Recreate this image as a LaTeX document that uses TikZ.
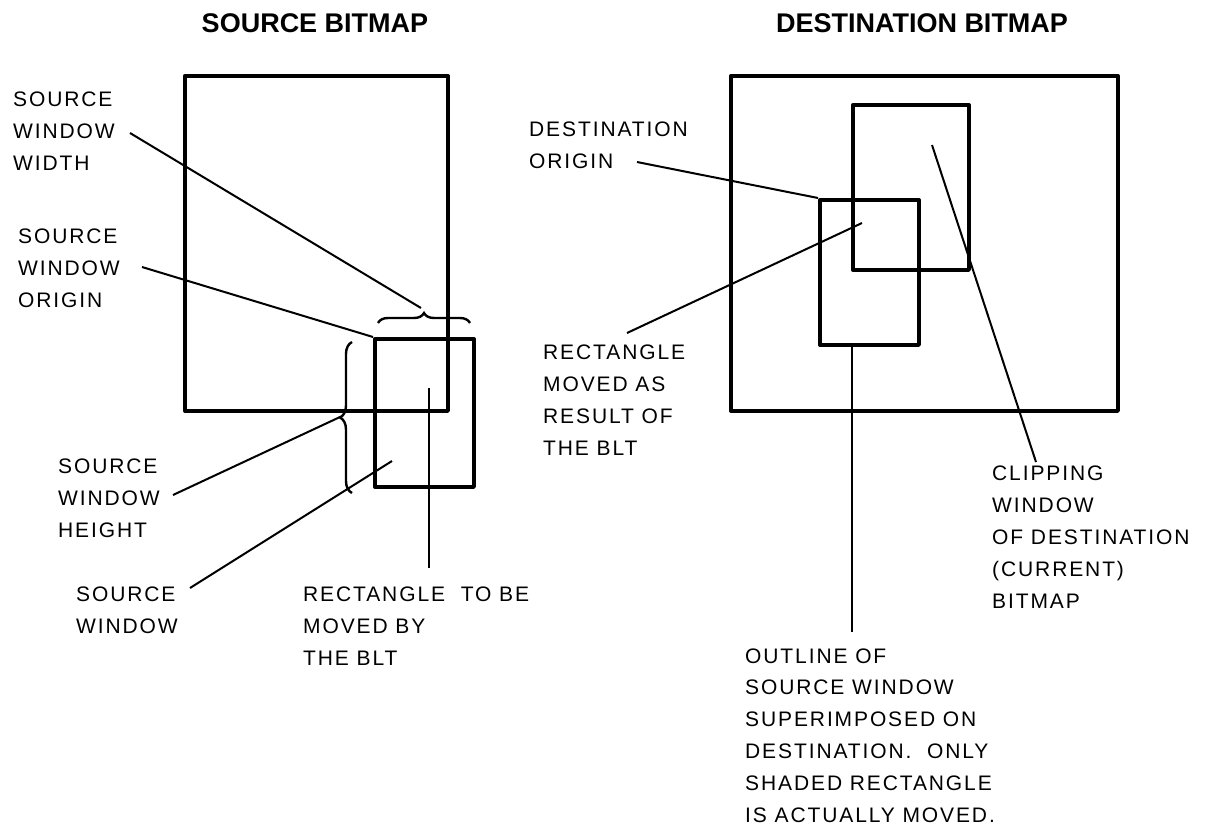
\documentclass[tikz,border=0pt]{standalone}
\usepackage{fontspec}
\setmainfont{Liberation Sans}
\newfontfamily\lblfamily[LetterSpace=9]{Liberation Sans}
\usetikzlibrary{decorations.pathreplacing}
\tikzset{
  bitbox/.style={draw, line width=3.8pt, line join=round, inner sep=0pt, anchor=north west},
  leader/.style={draw, line width=2pt},
  bracemark/.style={draw, line width=2.4pt, decorate, decoration={brace, amplitude=#1}},
  lbl/.style={font=\lblfamily\fontsize{21}{31.8}\selectfont, align=left, anchor=base west, inner sep=0pt},
  ttl/.style={font=\bfseries\fontsize{27}{30}\selectfont, anchor=base, inner sep=0pt}
}
\begin{document}
\begin{tikzpicture}[x=1pt, y=-1pt]
\useasboundingbox (0,0) rectangle (1215,828);
% titles
\node[ttl] (t1) at (315,32) {SOURCE BITMAP};
\node[ttl] (t2) at (922,32) {DESTINATION BITMAP};
% source side boxes
\node[bitbox, minimum width=263pt, minimum height=335pt] (srcbmp) at (183,74) {};
\node[bitbox, minimum width=99pt, minimum height=148pt] (srcwin) at (373,337) {};
% braces
\draw[bracemark=10pt] (378,323) -- (470,323);
\draw[bracemark=12pt] (352,493) -- (352,342);
% source labels (anchored at the baseline of their last line)
\node[lbl] (lw) at (13,170) {SOURCE\\WINDOW\\WIDTH};
\node[lbl] (lo) at (18,307) {SOURCE\\WINDOW\\ORIGIN};
\node[lbl] (lh) at (58,537) {SOURCE\\WINDOW\\HEIGHT};
\node[lbl] (ls) at (76,633) {SOURCE\\WINDOW};
\node[lbl] (lr) at (303,665) {RECTANGLE\hspace{8pt} TO BE\\MOVED BY\\THE BLT};
% source leader endpoints
\coordinate (lwA) at (130,133);
\coordinate (lwB) at (421,308);
\coordinate (loA) at (142,267);
\coordinate (loB) at (srcwin.north west);
\coordinate (lhA) at (173,495);
\coordinate (lhB) at (340,417);
\coordinate (lsA) at (190,588);
\coordinate (lsB) at (392,461);
\coordinate (lrA) at (429,388);
\coordinate (lrB) at (429,568);
\draw[leader] (lwA) -- (lwB);
\draw[leader] (loA) -- (loB);
\draw[leader] (lhA) -- (lhB);
\draw[leader] (lsA) -- (lsB);
\draw[leader] (lrA) -- (lrB);
% destination side boxes
\node[bitbox, minimum width=387pt, minimum height=335pt] (dstbmp) at (729,74) {};
\node[bitbox, minimum width=116pt, minimum height=165pt] (clip) at (851,103) {};
\node[bitbox, minimum width=99pt, minimum height=145pt] (dstwin) at (818,198) {};
% destination labels
\node[lbl] (ldo) at (529,168) {DESTINATION\\ORIGIN};
\node[lbl] (lrm) at (543,455) {RECTANGLE\\MOVED AS\\RESULT OF\\THE BLT};
\node[lbl] (lcw) at (992,608) {CLIPPING\\WINDOW\\OF DESTINATION\\(CURRENT)\\BITMAP};
\node[lbl] (lol) at (745,822) {OUTLINE OF\\SOURCE WINDOW\\SUPERIMPOSED ON\\DESTINATION.\hspace{8pt} ONLY\\SHADED RECTANGLE\\IS ACTUALLY MOVED.};
% destination leaders
\coordinate (ldoA) at (637,162);
\coordinate (lrmA) at (627,333);
\coordinate (lrmB) at (862,223);
\coordinate (lcwA) at (932,145);
\coordinate (lcwB) at (1036,462);
\coordinate (lolB) at (852,632);
\draw[leader] (ldoA) -- (dstwin.north west);
\draw[leader] (lrmA) -- (lrmB);
\draw[leader] (lcwA) -- (lcwB);
\draw[leader] (dstwin.south west -| lolB) -- (lolB);
\end{tikzpicture}
\end{document}
